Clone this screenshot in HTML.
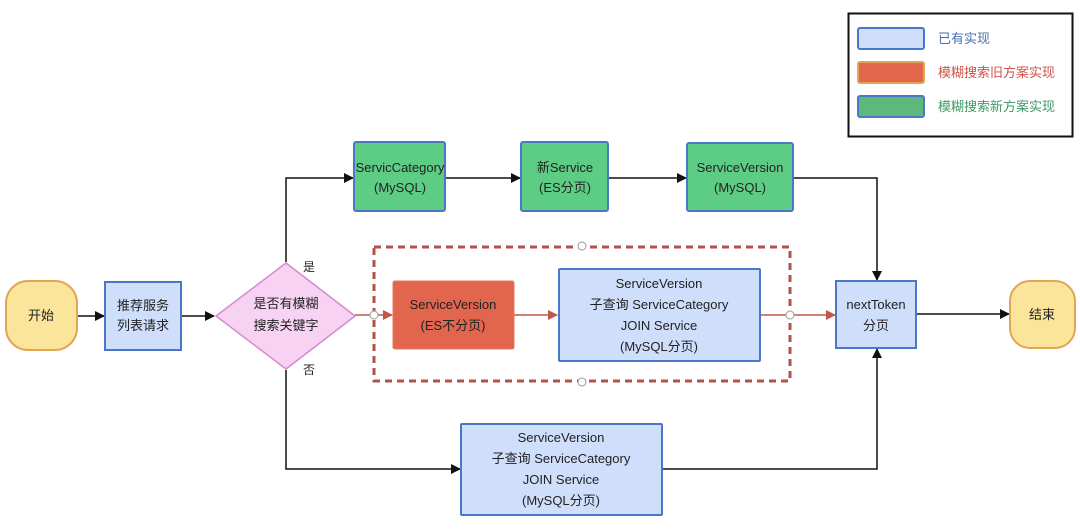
<!DOCTYPE html>
<html><head><meta charset="utf-8"><style>
html,body{margin:0;padding:0;background:#fff;}
svg{display:block;}
text{font-family:"Liberation Sans","Noto Sans CJK SC",sans-serif;font-size:13px;fill:#222;text-anchor:middle;}
</style></head><body>
<svg width="1080" height="531" viewBox="0 0 1080 531" xmlns="http://www.w3.org/2000/svg">
<defs>
<marker id="ab" markerWidth="10" markerHeight="10" refX="9" refY="5" orient="auto" markerUnits="userSpaceOnUse"><path d="M0,0 L10,5 L0,10 z" fill="#111"/></marker>
<marker id="ar" markerWidth="10" markerHeight="10" refX="9" refY="5" orient="auto" markerUnits="userSpaceOnUse"><path d="M0,0 L10,5 L0,10 z" fill="#c0594a"/></marker>
</defs>
<rect x="0" y="0" width="1080" height="531" fill="#fff"/>
<!-- legend -->
<rect x="848.5" y="13.5" width="224" height="123" fill="#fff" stroke="#111" stroke-width="2"/>
<rect x="858" y="28" width="66" height="21" rx="2" fill="#cfdefb" stroke="#4a78c4" stroke-width="2"/>
<rect x="858" y="62" width="66" height="21" rx="2" fill="#e2654e" stroke="#e0a656" stroke-width="2"/>
<rect x="858" y="96" width="66" height="21" rx="2" fill="#5db879" stroke="#4a78c4" stroke-width="2"/>
<text x="938" y="43" style="text-anchor:start;fill:#4a6fb0">已有实现</text>
<text x="938" y="77" style="text-anchor:start;fill:#d0524a">模糊搜索旧方案实现</text>
<text x="938" y="111" style="text-anchor:start;fill:#3f9a66">模糊搜索新方案实现</text>

<!-- connectors -->
<g stroke="#111" stroke-width="1.5" fill="none">
<line x1="77" y1="316" x2="104" y2="316" marker-end="url(#ab)"/>
<line x1="181" y1="316" x2="214" y2="316" marker-end="url(#ab)"/>
<polyline points="286,262 286,178 353,178" marker-end="url(#ab)"/>
<polyline points="286,370 286,469 460,469" marker-end="url(#ab)"/>
<line x1="445" y1="178" x2="520" y2="178" marker-end="url(#ab)"/>
<line x1="608" y1="178" x2="686" y2="178" marker-end="url(#ab)"/>
<polyline points="793,178 877,178 877,280" marker-end="url(#ab)"/>
<polyline points="662,469 877,469 877,349" marker-end="url(#ab)"/>
<line x1="916" y1="314" x2="1009" y2="314" marker-end="url(#ab)"/>
</g>
<g stroke="#c0594a" stroke-width="1.5" fill="none">
<line x1="355" y1="315" x2="392" y2="315" marker-end="url(#ar)"/>
<line x1="514" y1="315" x2="557" y2="315" marker-end="url(#ar)"/>
<line x1="760" y1="315" x2="835" y2="315" marker-end="url(#ar)"/>
</g>
<rect x="374" y="247" width="416" height="134" fill="none" stroke="#b0534a" stroke-width="3" stroke-dasharray="7,5"/>
<g fill="#fff" stroke="#999" stroke-width="1">
<circle cx="374" cy="315" r="4"/><circle cx="790" cy="315" r="4"/>
<circle cx="582" cy="246" r="4"/><circle cx="582" cy="382" r="4"/>
</g>

<!-- nodes -->
<rect x="6" y="281" width="71" height="69" rx="22" fill="#fbe59a" stroke="#e0a656" stroke-width="2"/>
<text x="41" y="320">开始</text>
<rect x="105" y="282" width="76" height="68" fill="#cfdefb" stroke="#4a78c4" stroke-width="2"/>
<text x="143" y="310">推荐服务</text><text x="143" y="330">列表请求</text>
<polygon points="216,316 286,263 355,316 286,369" fill="#f7d2f3" stroke="#d58ad0" stroke-width="1.5"/>
<text x="286" y="308">是否有模糊</text><text x="286" y="330">搜索关键字</text>
<text x="309" y="271" style="font-size:12px">是</text>
<text x="309" y="374" style="font-size:12px">否</text>

<rect x="354" y="142" width="91" height="69" rx="2" fill="#5dcc85" stroke="#4a78c4" stroke-width="2"/>
<text x="400" y="172">ServicCategory</text><text x="400" y="192">(MySQL)</text>
<rect x="521" y="142" width="87" height="69" rx="2" fill="#5dcc85" stroke="#4a78c4" stroke-width="2"/>
<text x="565" y="172">新Service</text><text x="565" y="192">(ES分页)</text>
<rect x="687" y="143" width="106" height="68" rx="2" fill="#5dcc85" stroke="#4a78c4" stroke-width="2"/>
<text x="740" y="172">ServiceVersion</text><text x="740" y="192">(MySQL)</text>

<rect x="393" y="281" width="121" height="68" rx="2" fill="#e2654e" stroke="#e07a5e" stroke-width="1"/>
<text x="453" y="309">ServiceVersion</text><text x="453" y="330">(ES不分页)</text>
<rect x="559" y="269" width="201" height="92" rx="1" fill="#cfdefb" stroke="#4a78c4" stroke-width="2"/>
<text x="659" y="288">ServiceVersion</text><text x="659" y="309">子查询 ServiceCategory</text>
<text x="659" y="330">JOIN Service</text><text x="659" y="351">(MySQL分页)</text>

<rect x="836" y="281" width="80" height="67" fill="#cfdefb" stroke="#4a78c4" stroke-width="2"/>
<text x="876" y="309">nextToken</text><text x="876" y="330">分页</text>
<rect x="1010" y="281" width="65" height="67" rx="20" fill="#fbe59a" stroke="#e0a656" stroke-width="2"/>
<text x="1042" y="319">结束</text>

<rect x="461" y="424" width="201" height="91" rx="1" fill="#cfdefb" stroke="#4a78c4" stroke-width="2"/>
<text x="561" y="442">ServiceVersion</text><text x="561" y="463">子查询 ServiceCategory</text>
<text x="561" y="484">JOIN Service</text><text x="561" y="505">(MySQL分页)</text>
</svg>
</body></html>
